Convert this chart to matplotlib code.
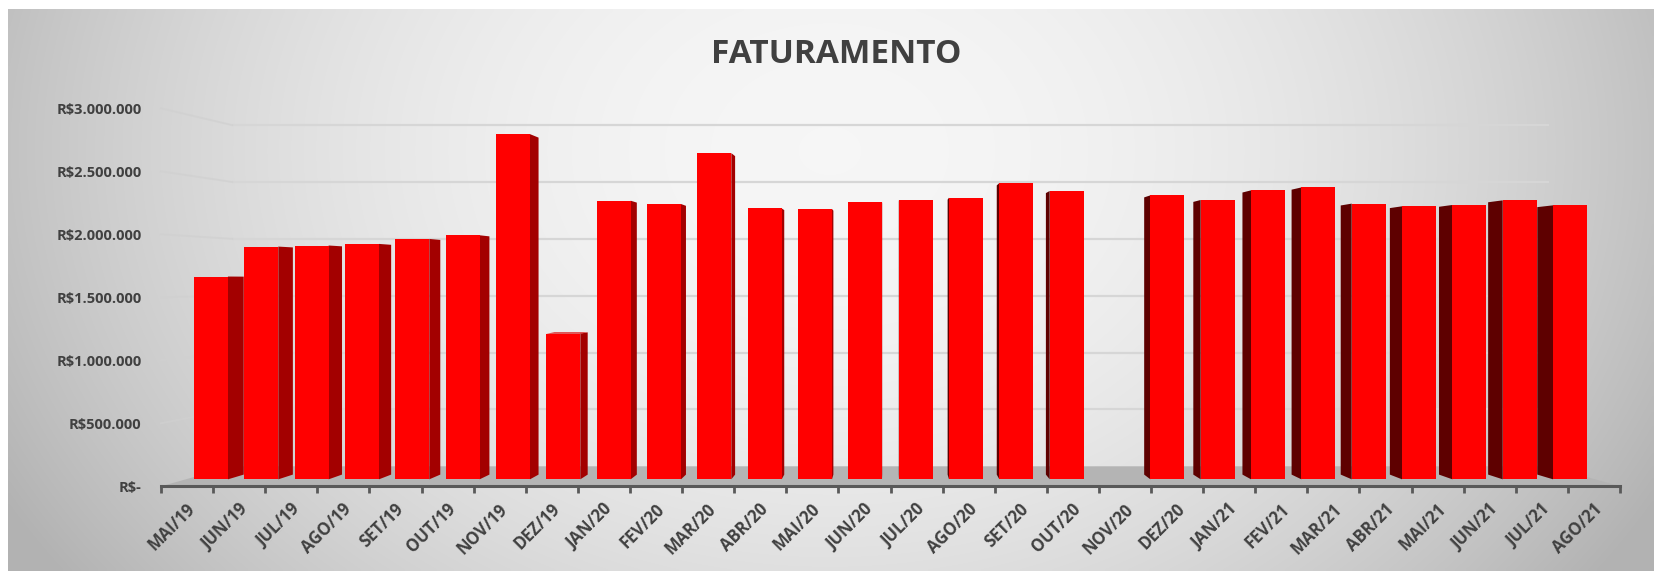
import numpy as np
import matplotlib
matplotlib.use("Agg")
import matplotlib.pyplot as plt
from matplotlib.patches import Polygon
from matplotlib.transforms import ScaledTranslation

# ---------------- data ----------------
months = ["MAI/19", "JUN/19", "JUL/19", "AGO/19", "SET/19", "OUT/19", "NOV/19",
          "DEZ/19", "JAN/20", "FEV/20", "MAR/20", "ABR/20", "MAI/20", "JUN/20",
          "JUL/20", "AGO/20", "SET/20", "OUT/20", "NOV/20", "DEZ/20", "JAN/21",
          "FEV/21", "MAR/21", "ABR/21", "MAI/21", "JUN/21", "JUL/21", "AGO/21"]
faturamento = [1666000, 1912000, 1921000, 1934000, 1975000, 2005000, 2836000,
               1197000, 2289000, 2262000, 2680000, 2226000, 2221000, 2281000,
               2298000, 2314000, 2434000, 2369000, np.nan, 2333000, 2295000,
               2374000, 2398000, 2265000, 2243000, 2254000, 2292000, 2251000]
y_ticks = [0, 500000, 1000000, 1500000, 2000000, 2500000, 3000000]
y_tick_labels = [r"R\$-", r"R\$500.000", r"R\$1.000.000", r"R\$1.500.000",
                 r"R\$2.000.000", r"R\$2.500.000", r"R\$3.000.000"]
title = "FATURAMENTO"

# ---------------- style ----------------
FONT = "Open Sans"
TXT = "#404040"
W, H = 1654, 571
fig = plt.figure(figsize=(W / 100, H / 100), dpi=100)
fig.patch.set_facecolor("white")

# background radial gradient (chart area)
bg = fig.add_axes([8 / W, 0, 1 - 8 / W, (H - 9) / H], zorder=-10)
gx = np.linspace(8, W, 400)
gy = np.linspace(9, H, 160)
GX, GY = np.meshgrid(gx, gy)
d2 = ((GX - 830) / 800) ** 2 + ((GY - 150) / 620) ** 2
val = np.clip(0.965 - 0.19 * d2, 0.70, 0.97)
bg.imshow(np.dstack([val, val, val]), aspect="auto", extent=(0, 1, 0, 1),
          origin="upper", interpolation="bilinear")
bg.set_axis_off()

# main axes: data coordinates are the front plane of the 3-D box
ax = fig.add_axes([161 / W, (H - 486.3) / H, 1459 / W, 378 / H])
ax.patch.set_alpha(0)
n = len(months)
ax.set_xlim(-0.5, n - 0.5)
ax.set_ylim(0, 3000000)

XV = (n - 1) / 2          # vanishing point (data coords)
YV = 1630000
R_BAR_F, R_BAR_B, R_WALL = 0.966, 0.943, 0.9026
HW = 0.3375


def proj(x, y, r):
    return (XV + (x - XV) * r, YV + (y - YV) * r)


# floor
floor = [proj(-0.5, 0, 1.0), proj(n - 0.5, 0, 1.0),
         proj(n - 0.5, 0, R_WALL), proj(-0.5, 0, R_WALL)]
ax.add_patch(Polygon(floor, closed=True, fc="#b4b4b4", ec="none", zorder=1,
                     clip_on=False))

# gridlines on back wall and left wall
for t in y_ticks[1:]:
    p0 = proj(-0.5, t, R_WALL)
    p1 = proj(n - 0.5, t, R_WALL)
    ax.plot([p0[0], p1[0]], [p0[1], p1[1]], color="#d6d6d6", lw=1.6,
            zorder=2, clip_on=False, solid_capstyle="butt")
    q0 = proj(-0.5, t, 1.0)
    ax.plot([q0[0], p0[0]], [q0[1], p0[1]], color="#d0d0d0", lw=1.4,
            zorder=2, clip_on=False, alpha=0.7)

idx = np.arange(n)
vals = np.array(faturamento, dtype=float)
ok = ~np.isnan(vals)

# side and top faces
for i, v in zip(idx[ok], vals[ok]):
    if i < XV:
        xs, col = i + HW, "#a30000"
    else:
        xs, col = i - HW, "#5e0000"
    side = [proj(xs, 0, R_BAR_F), proj(xs, v, R_BAR_F),
            proj(xs, v, R_BAR_B), proj(xs, 0, R_BAR_B)]
    ax.add_patch(Polygon(side, closed=True, fc=col, ec="none", zorder=3))
    if v < YV:
        top = [proj(i - HW, v, R_BAR_F), proj(i + HW, v, R_BAR_F),
               proj(i + HW, v, R_BAR_B), proj(i - HW, v, R_BAR_B)]
        ax.add_patch(Polygon(top, closed=True, fc="#d80000", ec="none", zorder=4))

# front faces
ax.bar(XV + (idx[ok] - XV) * R_BAR_F, vals[ok] * R_BAR_F,
       width=2 * HW * R_BAR_F, bottom=YV * (1 - R_BAR_F),
       color="#ff0000", edgecolor="none", zorder=5)

# axes styling
for s in ["top", "right", "left"]:
    ax.spines[s].set_visible(False)
ax.spines["bottom"].set_color("#595959")
ax.spines["bottom"].set_linewidth(2.2)
ax.spines["bottom"].set_zorder(6)

ax.set_yticks(y_ticks)
ax.set_yticklabels(y_tick_labels)
ax.tick_params(axis="y", length=0, pad=14, labelsize=10.5, labelcolor=TXT)
for lab in ax.get_yticklabels():
    lab.set_fontfamily(FONT)
    lab.set_fontweight("bold")

ax.set_xticks(np.arange(-0.5, n), minor=False)
ax.set_xticklabels([])
ax.tick_params(axis="x", which="major", direction="out", length=5, width=2,
               color="#595959")
ax.set_xticks(idx, minor=True)
ax.set_xticklabels(months, minor=True)
ax.tick_params(axis="x", which="minor", length=0, pad=10, labelsize=12,
               labelcolor=TXT)
off = ScaledTranslation(-1 / 100, 0, fig.dpi_scale_trans)
for lab in ax.get_xticklabels(minor=True):
    lab.set_rotation(45)
    lab.set_ha("right")
    lab.set_va("top")
    lab.set_rotation_mode("anchor")
    lab.set_fontfamily(FONT)
    lab.set_fontweight("bold")
    lab.set_transform(lab.get_transform() + off)

fig.text(836.7 / W, (H - 63.3) / H, title, ha="center", va="baseline",
         fontsize=24, fontweight="bold", color=TXT, family=FONT)

fig.savefig("out.png", dpi=100)
